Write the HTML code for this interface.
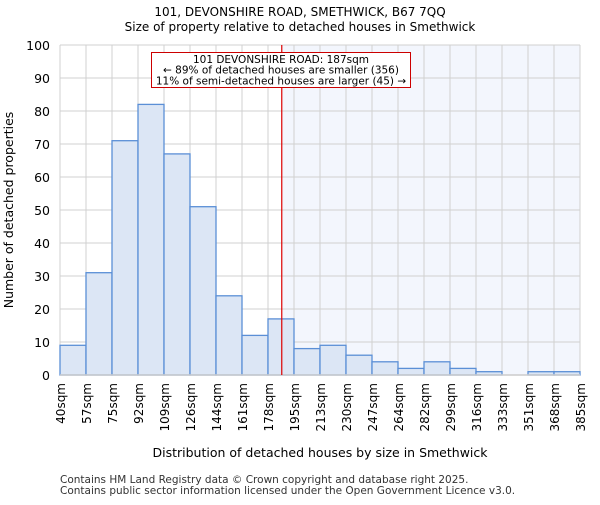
<!DOCTYPE html>
<html><head><meta charset="utf-8"><style>body{margin:0;background:#fff}text{font-family:"DejaVu Sans","Liberation Sans",sans-serif}</style></head>
<body>
<svg id="chart" width="600" height="500" xmlns="http://www.w3.org/2000/svg">
<text x="300" y="16" text-anchor="middle" font-size="12">101, DEVONSHIRE ROAD, SMETHWICK, B67 7QQ</text>
<text x="300" y="31" text-anchor="middle" font-size="12">Size of property relative to detached houses in Smethwick</text>
<g id="plot"></g>
<text x="320" y="457" text-anchor="middle" font-size="12.5">Distribution of detached houses by size in Smethwick</text>
<text transform="translate(13,210) rotate(-90)" text-anchor="middle" font-size="12.5">Number of detached properties</text>
<text x="60" y="483" font-size="10.5" fill="#333">Contains HM Land Registry data © Crown copyright and database right 2025.</text>
<text x="60" y="494" font-size="10.5" fill="#333">Contains public sector information licensed under the Open Government Licence v3.0.</text>
</svg>
<script>
const binEdges=[40,57,75,92,109,126,144,161,178,195,213,230,247,264,282,299,316,333,351,368,385];
const counts=[9,31,71,82,67,51,24,12,17,8,9,6,4,2,4,2,1,0,1,1];
const yTicks=[0,10,20,30,40,50,60,70,80,90,100];
const markerSize=187;
const NS="http://www.w3.org/2000/svg";
const L=60,R=580,T=45,B=375,YMAX=100;
const g=document.getElementById('plot');
const bw=(R-L)/counts.length;
function xIdx(i){return L+i*bw;}
function xVal(v){for(let i=0;i<binEdges.length-1;i++){if(v>=binEdges[i]&&v<=binEdges[i+1])return xIdx(i)+bw*(v-binEdges[i])/(binEdges[i+1]-binEdges[i]);}return R;}
function y(v){return B-(v/YMAX)*(B-T);}
function el(t,a){const e=document.createElementNS(NS,t);for(const k in a)e.setAttribute(k,a[k]);g.appendChild(e);return e;}
const mx=xVal(markerSize);
let e=el('rect',{x:mx,y:T,width:R-mx,height:B-T,fill:'#f3f6fd'});


yTicks.forEach(t=>{
 let l=el('line',{x1:L,x2:R,y1:y(t),y2:y(t),stroke:'#d0d0d0','stroke-width':1});
 
 
 let tx=el('text',{x:L-10,y:y(t)+5,'text-anchor':'end','font-size':12.5});
 tx.textContent=t;
 
 
});
binEdges.forEach((b,i)=>{
 let l=el('line',{x1:xIdx(i),x2:xIdx(i),y1:T,y2:B,stroke:'#d0d0d0','stroke-width':1});
 
 
 let tx=el('text',{transform:`translate(${xIdx(i)+5},${B+8}) rotate(-90)`,'text-anchor':'end','font-size':12});
 tx.textContent=b+'sqm';
 
 
});
counts.forEach((c,i)=>{
 if(c<=0)return;
 let r=el('rect',{x:xIdx(i),y:y(c),width:bw,height:B-y(c),fill:'#dce6f5',stroke:'#5b8fd6','stroke-width':1.3});
 
 
});
let ax=el('line',{x1:L,x2:R,y1:B,y2:B,stroke:'#ccc','stroke-width':1.5});


let ml=el('line',{x1:mx,x2:mx,y1:T,y2:B,stroke:'#d00','stroke-width':1.2});


let box=el('rect',{x:151.5,y:52.5,width:259,height:35,fill:'#fff',stroke:'#c00','stroke-width':1});


const lines=['101 DEVONSHIRE ROAD: 187sqm','← 89% of detached houses are smaller (356)','11% of semi-detached houses are larger (45) →'];
lines.forEach((s,i)=>{
 let t=el('text',{x:281,y:63+i*10.7,'text-anchor':'middle','font-size':10.5});
 t.textContent=s;
 
 
});
</script>
</body></html>
